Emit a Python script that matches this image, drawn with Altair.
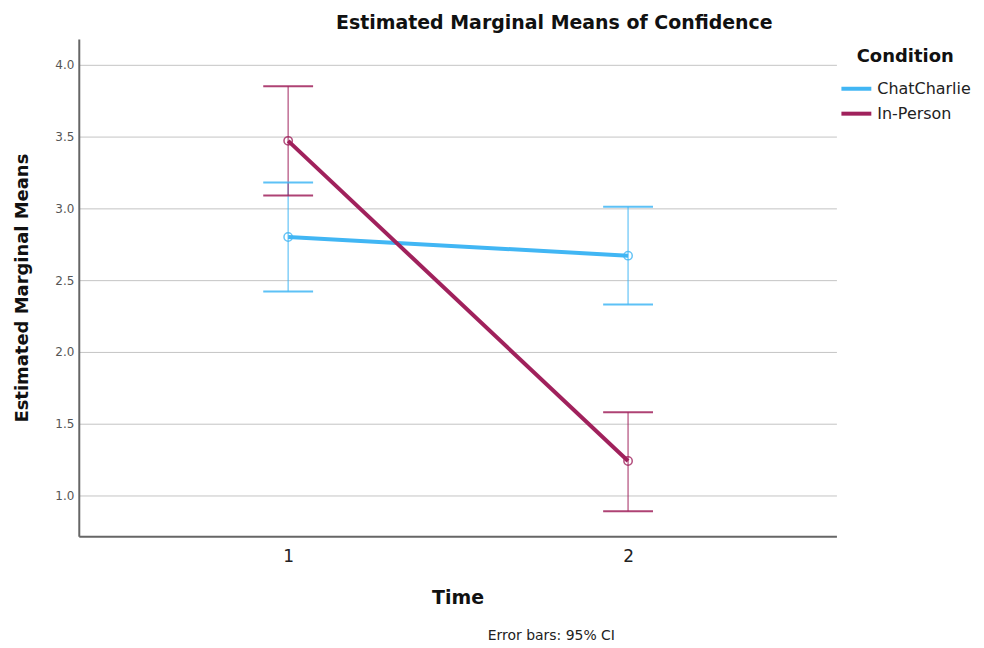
import altair as alt
import pandas as pd

time = [1, 2, 1, 2]
condition = ["ChatCharlie", "ChatCharlie", "In-Person", "In-Person"]
mean = [2.80, 2.67, 3.47, 1.24]
lower = [2.42, 2.33, 3.09, 0.89]
upper = [3.18, 3.01, 3.85, 1.58]

conditions = ["ChatCharlie", "In-Person"]
colors = ["#41B6F4", "#A0215C"]
y_ticks = [1.0, 1.5, 2.0, 2.5, 3.0, 3.5, 4.0]
x_ticks = [1, 2]
note = ["Error bars: 95% CI"]

df = pd.DataFrame({"Time": time, "Condition": condition, "mean": mean,
                   "lower": lower, "upper": upper})

FONT = "DejaVu Sans"

x = alt.X("Time:Q", scale=alt.Scale(domain=[0.384, 2.613], nice=False, zero=False),
          axis=alt.Axis(values=x_ticks, format="d", title="Time", grid=False, ticks=False,
                        labelFontSize=17, labelColor="#222", labelPadding=12,
                        titleFontSize=19, titleFontWeight="bold", titleColor="#111",
                        titlePadding=24, domainColor="#666", domainWidth=2))
y_scale = alt.Scale(domain=[0.715, 4.18], nice=False, zero=False)
y = alt.Y("mean:Q", scale=y_scale,
          axis=alt.Axis(values=y_ticks, format=".1f", title="Estimated Marginal Means",
                        grid=True, gridColor="#c4c4c4", gridWidth=1, ticks=False,
                        labelFontSize=12, labelColor="#555", labelPadding=5,
                        titleFontSize=18, titleFontWeight="bold", titleColor="#111",
                        titlePadding=23, domainColor="#666", domainWidth=2))
color = alt.Color("Condition:N", scale=alt.Scale(domain=conditions, range=colors),
                  legend=alt.Legend(title="Condition", orient="none", legendX=763, legendY=9,
                                    titleFontSize=18, titleFontWeight="bold", titleColor="#111",
                                    titleAnchor="middle", titlePadding=6,
                                    labelFontSize=16, labelColor="#222",
                                    symbolType="stroke", symbolSize=900, symbolOpacity=1,
                                    symbolStrokeWidth=4, rowPadding=-3, labelOffset=4))

base = alt.Chart(df)

lines = base.mark_line(strokeWidth=4).encode(x=x, y=y, color=color)
points = base.mark_point(filled=False, size=70, strokeWidth=1.5, opacity=0.8).encode(
    x=x, y=y, color=color)
whisk = base.mark_rule(strokeWidth=1.5, opacity=0.65).encode(
    x=x, y=alt.Y("lower:Q", scale=y_scale), y2="upper:Q", color=color)
cap_lo = base.mark_tick(orient="horizontal", size=50, thickness=2, opacity=0.85).encode(
    x=x, y=alt.Y("lower:Q", scale=y_scale), color=color)
cap_hi = base.mark_tick(orient="horizontal", size=50, thickness=2, opacity=0.85).encode(
    x=x, y=alt.Y("upper:Q", scale=y_scale), color=color)

note_layer = alt.Chart(pd.DataFrame({"note": note})).mark_text(
    fontSize=14, color="#222", font=FONT, align="center", baseline="middle").encode(
    x=alt.value(474), y=alt.value(599), text="note:N")

chart = alt.layer(whisk, cap_lo, cap_hi, lines, points, note_layer).properties(
    width=760, height=499,
    title=alt.TitleParams("Estimated Marginal Means of Confidence", fontSize=19,
                          fontWeight="bold", color="#111", anchor="middle", dx=97, offset=6)
).configure(font=FONT).configure_view(stroke=None)

chart.save("out.html", embed_options={"renderer": "svg", "actions": False})
